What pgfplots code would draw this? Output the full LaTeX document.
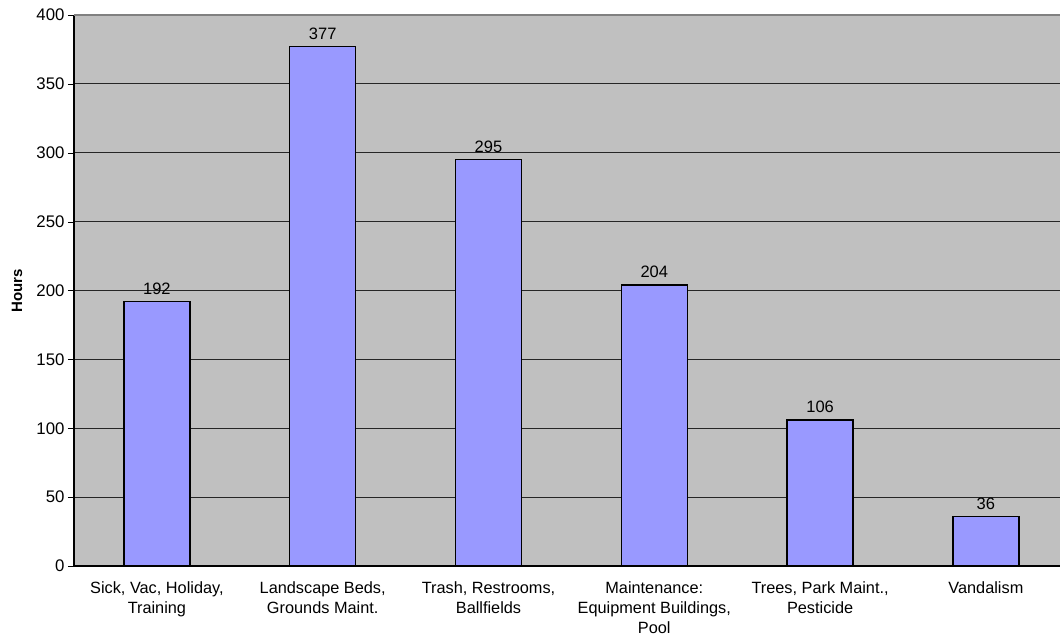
\documentclass[border=0pt]{standalone}
\usepackage{pgfplots}
\pgfplotsset{compat=1.18}
\usepackage{fontspec}
\setmainfont{Liberation Sans}
\definecolor{plotbg}{HTML}{C0C0C0}
\definecolor{barfill}{HTML}{9999FF}
\begin{document}
\begin{tikzpicture}[x=1pt,y=1pt]
\begin{axis}[
    at={(0,0)}, anchor=south west,
    scale only axis,
    width=986pt, height=551pt,
    xmin=-0.5, xmax=5.447,
    ymin=0, ymax=400,
    ytick={0,50,...,350},
    extra y ticks={400},
    extra y tick style={grid=none},
    xtick={0,...,5},
    xticklabels={{Sick, Vac, Holiday,\\Training},
                 {Landscape Beds,\\Grounds Maint.},
                 {Trash, Restrooms,\\Ballfields},
                 {Maintenance:\\Equipment Buildings,\\Pool},
                 {Trees, Park Maint.,\\Pesticide},
                 {Vandalism}},
    xticklabel style={align=center, font=\fontsize{16.3}{20}\selectfont, yshift=-6pt},
    yticklabel style={font=\fontsize{16.8}{20}\selectfont},
    /pgf/number format/assume math mode=true,
    major x tick style={draw=none},
    extra x ticks={-0.5,0.5,1.5,2.5,3.5,4.5},
    extra x tick labels={},
    extra x tick style={major tick length=5pt, tick align=outside, tick style={black, draw}},
    tick align=outside,
    major tick length=6pt,
    y tick style={black},
    axis x line*=bottom,
    axis y line*=left,
    axis line style={black, line width=1.1pt, -},
    ymajorgrids,
    grid style={black!85, line width=0.8pt},
    axis background/.style={fill=plotbg},
    ylabel={\bfseries Hours},
    ylabel style={font=\fontsize{15}{18}\selectfont, at={(rel axis cs:0,0.5)}, anchor=center, yshift=57pt},
    ybar, bar width=66pt,
    nodes near coords,
    nodes near coords style={font=\fontsize{16.5}{20}\selectfont, yshift=3pt},
]
\addplot[fill=barfill, draw=black, line width=1.3pt]
    coordinates {(0,192) (1,377) (2,295) (3,204) (4,106) (5,36)};
\draw[gray, line width=1.2pt] (rel axis cs:0,1) -- (rel axis cs:1,1);
\end{axis}
\pgfresetboundingbox
\useasboundingbox (-74pt,-71pt) rectangle (986pt,566pt);
\end{tikzpicture}
\end{document}
